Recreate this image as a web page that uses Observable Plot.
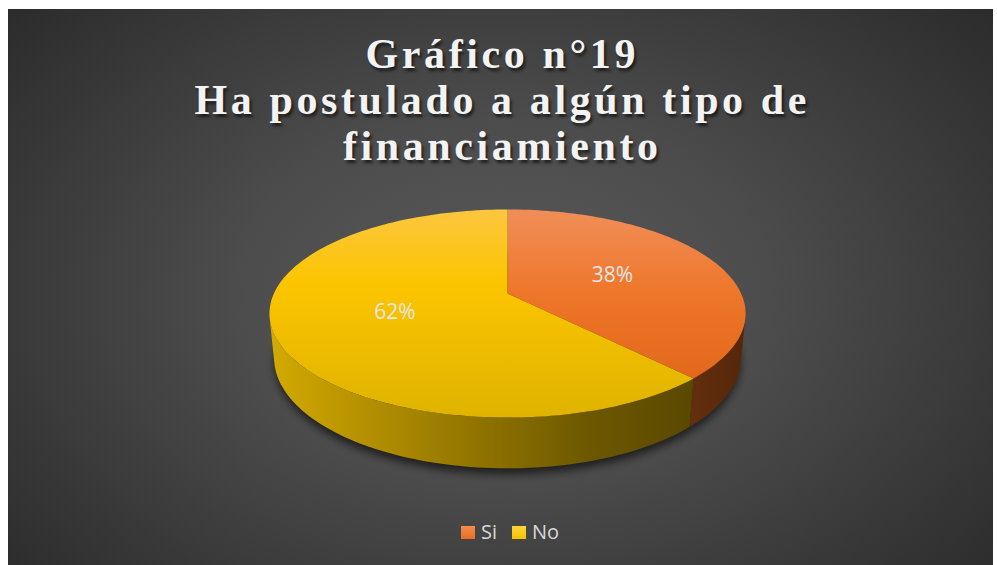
<!DOCTYPE html>
<html>
<head>
<meta charset="utf-8">
<script src="https://cdn.jsdelivr.net/npm/d3@7"></script>
<script src="https://cdn.jsdelivr.net/npm/@observablehq/plot@0.6"></script>
<style>
  html, body { margin: 0; padding: 0; background: #ffffff; }
  #frame {
    position: absolute; left: 8px; top: 9px; width: 985px; height: 556px; overflow: hidden;
    background: radial-gradient(ellipse 72% 85% at 50% 52%, #5a5a5a 0%, #4c4c4c 38%, #272727 100%);
  }
  #title {
    position: absolute; left: 0; top: 22px; width: 100%; text-align: center;
    padding-left: 3.6px; box-sizing: border-box;
    font-family: "Liberation Serif", "Times New Roman", serif; font-weight: bold;
    font-size: 42px; letter-spacing: 3.6px; line-height: 46px; color: #f3f3f3;
    text-shadow: 2px 3px 3px rgba(0,0,0,0.6);
  }
  #chart { position: absolute; left: 0; top: 180px; }
  #legend {
    position: absolute; left: 453px; top: 513px; height: 20px; display: flex; align-items: center;
    font-family: "Open Sans", "Noto Sans", sans-serif; font-size: 20px; line-height: 20px; color: #d9d9d9;
  }
  .item { display: flex; align-items: center; margin-right: 15px; }
  .sw { width: 14px; height: 13px; margin-right: 6px; }
</style>
</head>
<body>
<div id="frame">
  <div id="title"></div>
  <div id="chart"></div>
  <div id="legend"></div>
</div>
<script>
// ---- data ----
const titleLines = ["Gráfico n°19", "Ha postulado a algún tipo de", "financiamiento"];
const categories = ["Si", "No"];
const values = [38, 62];

// ---- styles ----
const topStops = {
  Si: [[0, "#f08e58"], [0.5, "#ee7629"], [1, "#e3681b"]],
  No: [[0, "#fcc640"], [0.35, "#fcc500"], [1, "#dfb300"]]
};
const sideStops = {
  Si: [[0, "#632f0f"], [1, "#552609"]],
  No: [[0, "#d3aa00"], [0.3, "#aa8800"], [0.5, "#8f7300"], [0.75, "#6d5800"], [1, "#5a4800"]]
};
const swatch = { Si: "linear-gradient(#f28d52, #e96c1e)", No: "linear-gradient(#fdd43a, #f8c000)" };

// title
document.getElementById("title").innerHTML = titleLines.join("<br>");

// ---- geometry (3D perspective pie) ----
const W = 985, Hs = 320, K = 233.6, cx = 499, cy = 104;
const phi = 25.4 * Math.PI / 180, D = 4.69, depth = 0.21;
function proj(theta, r, Y) {
  const X = r * Math.sin(theta), Z = -r * Math.cos(theta);
  const yc = Y * Math.cos(phi) - Z * Math.sin(phi);
  const zc = Y * Math.sin(phi) + Z * Math.cos(phi);
  const s = D / (D - zc);
  return { x: X * s, y: yc * s };
}
function arcPts(a0, a1, r, Y) {
  const n = Math.max(2, Math.ceil(240 * (a1 - a0) / (2 * Math.PI)));
  return d3.range(n + 1).map(i => proj(a0 + (a1 - a0) * i / n, r, Y));
}
const arcs = d3.pie().sort(null)(values);
const thetaS = Math.acos(-1 / (D * Math.cos(phi)));

const tops = arcs.map((a, i) => ({ cat: categories[i], pts: [proj(0, 0, 0), ...arcPts(a.startAngle, a.endAngle, 1, 0)] }));
const sides = arcs.map((a, i) => {
  const b0 = Math.max(a.startAngle, thetaS), b1 = Math.min(a.endAngle, 2 * Math.PI - thetaS);
  if (b1 <= b0) return null;
  return { cat: categories[i], pts: [...arcPts(b0, b1, 1, 0), ...arcPts(b0, b1, 1, -depth).reverse()] };
}).filter(Boolean);
const shadow = arcPts(0, 2 * Math.PI, 1.0, -depth - 0.025);
const labels = arcs.map((a, i) => ({ ...proj((a.startAngle + a.endAngle) / 2, 0.5, 0), text: values[i] + "%" }));

const lineOpts = { x: "x", y: "y", stroke: "none", curve: "linear-closed" };
const plot = Plot.plot({
  width: W, height: Hs, margin: 0,
  style: { background: "transparent", overflow: "visible" },
  x: { domain: [-cx / K, (W - cx) / K], range: [0, W], axis: null },
  y: { domain: [-(Hs - cy) / K, cy / K], range: [Hs, 0], axis: null },
  marks: [
    Plot.line(shadow, { ...lineOpts, fill: "rgba(0,0,0,0.6)" }),
    ...sides.map(s => Plot.line(s.pts, { ...lineOpts, fill: `url(#side-${s.cat})` })),
    ...tops.map(t => Plot.line(t.pts, { ...lineOpts, fill: `url(#top-${t.cat})` })),
    Plot.text(labels, { x: "x", y: "y", text: "text", fill: "#e6e6e6", fontSize: 21, fontFamily: "Open Sans, Noto Sans, sans-serif" })
  ]
});

// gradients & blur
const svg = d3.select(plot);
const defs = svg.insert("defs", ":first-child");
function grad(id, stops, vertical) {
  const g = defs.append("linearGradient").attr("id", id)
    .attr("x1", 0).attr("y1", 0).attr("x2", vertical ? 0 : 1).attr("y2", vertical ? 1 : 0);
  stops.forEach(([o, c]) => g.append("stop").attr("offset", o).attr("stop-color", c));
}
categories.forEach(c => { grad(`top-${c}`, topStops[c], true); grad(`side-${c}`, sideStops[c], false); });
defs.append("filter").attr("id", "blur").attr("x", "-10%").attr("y", "-20%").attr("width", "120%").attr("height", "140%")
  .append("feGaussianBlur").attr("stdDeviation", 4);
svg.selectAll('g[aria-label="line"]').filter((d, i) => i === 0).attr("filter", "url(#blur)");

document.getElementById("chart").appendChild(plot);

// legend
const legend = d3.select("#legend");
categories.forEach(c => {
  const it = legend.append("div").attr("class", "item");
  it.append("div").attr("class", "sw").style("background", swatch[c]);
  it.append("span").text(c);
});
</script>
</body>
</html>
